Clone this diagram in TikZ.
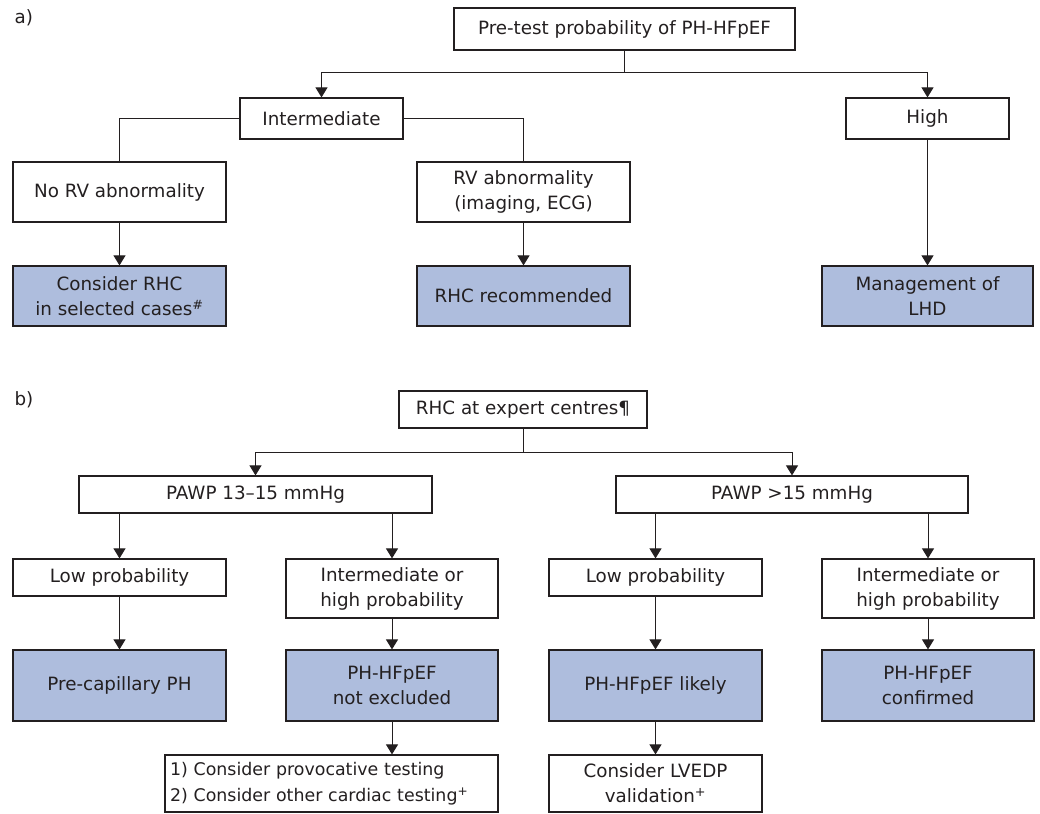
\documentclass[tikz,border=0pt]{standalone}
\usepackage{fontspec}
\setmainfont{DejaVu Sans}
\usetikzlibrary{arrows.meta}
\definecolor{boxblue}{RGB}{174,189,221}
\definecolor{ink}{RGB}{35,31,32}
\tikzset{
  box/.style={draw=ink, line width=1.2pt, text=ink, align=center, inner sep=0pt,
    font=\fontsize{18.3}{25}\selectfont},
  bluebox/.style={box, fill=boxblue},
  link/.style={draw=ink, line width=1pt},
  arr/.style={link, -{Triangle[length=10pt,width=12pt]}},
  panel/.style={text=ink, font=\fontsize{18.3}{22}\selectfont, anchor=west}
}
\begin{document}
\begin{tikzpicture}[x=1pt,y=-1pt]
\useasboundingbox (0,0) rectangle (1040,813);
% a)
\node[panel] (labA) at (11,18) {a)};
\node[box, minimum width=341pt, minimum height=42pt] (pretest) at (624.5,29) {Pre-test probability of PH-HFpEF};
\node[box, minimum width=163pt, minimum height=41pt] (inter) at (321.5,118.5) {Intermediate};
\node[box, minimum width=163pt, minimum height=41pt] (high) at (927.5,118.5) {High};
\node[box, minimum width=213pt, minimum height=60pt] (norv) at (119.5,192) {No RV abnormality};
\node[box, minimum width=213pt, minimum height=60pt] (rv) at (523.5,192) {RV abnormality\\(imaging, ECG)};
\node[bluebox, minimum width=213pt, minimum height=60pt] (consider) at (119.5,296) {Consider RHC\\in selected cases\textsuperscript{\#}};
\node[bluebox, minimum width=213pt, minimum height=60pt] (rhcrec) at (523.5,296) {RHC recommended};
\node[bluebox, minimum width=211pt, minimum height=60pt] (mgmt) at (927.5,296) {Management of\\LHD};
\coordinate (jA) at (624.5,73);
\draw[link] (pretest) -- (jA);
\draw[arr] (jA) -| (inter);
\draw[arr] (jA) -| (high);
\draw[link] (inter) -| (norv);
\draw[link] (inter) -| (rv);
\draw[arr] (norv) -- (consider);
\draw[arr] (rv) -- (rhcrec);
\draw[arr] (high) -- (mgmt);
% b)
\node[panel] (labB) at (11,400) {b)};
\node[box, minimum width=248pt, minimum height=37pt] (rhcexp) at (523,409.5) {RHC at expert centres¶};
\node[box, minimum width=353pt, minimum height=37pt] (pawpA) at (255.5,494.5) {PAWP 13–15 mmHg};
\node[box, minimum width=352pt, minimum height=37pt] (pawpB) at (792,494.5) {PAWP >15 mmHg};
\node[box, minimum width=213pt, minimum height=37pt] (lowA) at (119.5,577.5) {Low probability};
\node[box, minimum width=212pt, minimum height=59pt] (ihA) at (392,588.5) {Intermediate or\\high probability};
\node[box, minimum width=213pt, minimum height=37pt] (lowB) at (655.5,577.5) {Low probability};
\node[box, minimum width=212pt, minimum height=59pt] (ihB) at (928,588.5) {Intermediate or\\high probability};
\node[bluebox, minimum width=213pt, minimum height=71pt] (precap) at (119.5,685.5) {Pre-capillary PH};
\node[bluebox, minimum width=212pt, minimum height=71pt] (notex) at (392,685.5) {PH-HFpEF\\not excluded};
\node[bluebox, minimum width=213pt, minimum height=71pt] (likely) at (655.5,685.5) {PH-HFpEF likely};
\node[bluebox, minimum width=212pt, minimum height=71pt] (confirmed) at (928,685.5) {PH-HFpEF\\confirmed};
\node[box, minimum width=333pt, minimum height=57pt, text width=323pt, align=left,
  font=\fontsize{17.4}{26}\selectfont] (testing) at (331.5,783.5) {1) Consider provocative testing\\2) Consider other cardiac testing\textsuperscript{+}};
\node[box, minimum width=213pt, minimum height=57pt] (lvedp) at (655.5,783.5) {Consider LVEDP\\validation\textsuperscript{+}};
\coordinate (jB) at (523,452);
\draw[link] (rhcexp) -- (jB);
\draw[arr] (jB) -| (pawpA);
\draw[arr] (jB) -| (pawpB);
\draw[arr] (lowA.north |- pawpA.south) -- (lowA);
\draw[arr] (ihA.north |- pawpA.south) -- (ihA);
\draw[arr] (lowB.north |- pawpB.south) -- (lowB);
\draw[arr] (ihB.north |- pawpB.south) -- (ihB);
\draw[arr] (lowA) -- (precap);
\draw[arr] (ihA) -- (notex);
\draw[arr] (lowB) -- (likely);
\draw[arr] (ihB) -- (confirmed);
\draw[arr] (notex) -- (notex |- testing.north);
\draw[arr] (likely) -- (lvedp);
\end{tikzpicture}
\end{document}
